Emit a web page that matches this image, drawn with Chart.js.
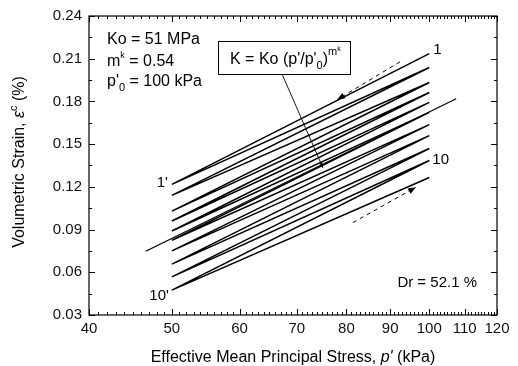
<!DOCTYPE html>
<html>
<head>
<meta charset="utf-8">
<script src="https://cdn.jsdelivr.net/npm/chart.js@4.4.1/dist/chart.umd.min.js"></script>
<style>
    html, body { margin: 0; padding: 0; background: #fff; }
</style>
</head>
<body>
<canvas id="strainChart" width="518" height="366"></canvas>
<script>
// unload / reload reversal points of the 10 cycles
const pHigh = 100;
const pLow = 50;
const upperTipStrain = [0.2136, 0.2038, 0.1933, 0.1863, 0.1793, 0.1723, 0.1637, 0.1560, 0.1469, 0.1385, 0.1266];
const lowerTipStrain = [0.1217, 0.1140, 0.1030, 0.0960, 0.0890, 0.0825, 0.0750, 0.0657, 0.0568, 0.0475];

// K = Ko (p'/p'0)^mk reference line
const kLineP = [46.6, 107.5];
const kLineStrain = [0.0748, 0.1819];

// dashed direction arrows
const unloadArrowP = [92.4, 78.0];
const unloadArrowStrain = [0.2078, 0.1812];
const reloadArrowP = [81.4, 96.5];
const reloadArrowStrain = [0.0949, 0.1198];

const xTicks = [40, 50, 60, 70, 80, 90, 100, 110, 120];
const yTicks = [0.03, 0.06, 0.09, 0.12, 0.15, 0.18, 0.21, 0.24];

const loopPoints = [];
upperTipStrain.forEach(function (v, i) {
    loopPoints.push({ x: pHigh, y: v });
    if (i < lowerTipStrain.length) loopPoints.push({ x: pLow, y: lowerTipStrain[i] });
});
const toPoints = (xs, ys) => xs.map((v, i) => ({ x: v, y: ys[i] }));

const SANS = "'Liberation Sans', Arial, sans-serif";
Chart.defaults.font.family = SANS;
Chart.defaults.color = "#111";

function rich(ctx, x, y, parts) {
    parts.forEach(function (p) {
        ctx.font = p.f;
        ctx.fillText(p.t, x, y + (p.dy || 0));
        x += ctx.measureText(p.t).width;
    });
    return x;
}
function richWidth(ctx, parts) {
    let w = 0;
    parts.forEach(function (p) { ctx.font = p.f; w += ctx.measureText(p.t).width; });
    return w;
}
function arrowHead(ctx, x0, y0, x1, y1, len, half) {
    const ang = Math.atan2(y1 - y0, x1 - x0);
    ctx.beginPath();
    ctx.moveTo(x1, y1);
    ctx.lineTo(x1 - len * Math.cos(ang) + half * Math.sin(ang), y1 - len * Math.sin(ang) - half * Math.cos(ang));
    ctx.lineTo(x1 - len * Math.cos(ang) - half * Math.sin(ang), y1 - len * Math.sin(ang) + half * Math.cos(ang));
    ctx.closePath();
    ctx.fill();
}

const framePlugin = {
    id: "frame",
    afterDraw(chart) {
        const ctx = chart.ctx, a = chart.chartArea, x = chart.scales.x, y = chart.scales.y;
        ctx.save();
        ctx.strokeStyle = "#000";
        ctx.fillStyle = "#000";
        ctx.lineWidth = 1.2;
        ctx.strokeRect(a.left, a.top, a.right - a.left, a.bottom - a.top);

        ctx.lineWidth = 1;
        ctx.beginPath();
        for (let v = xTicks[0]; v <= xTicks[xTicks.length - 1]; v++) {
            const px = Math.round(x.getPixelForValue(v)) + 0.5;
            const len = v % 10 === 0 ? 6 : 3;
            ctx.moveTo(px, a.bottom); ctx.lineTo(px, a.bottom - len);
            ctx.moveTo(px, a.top); ctx.lineTo(px, a.top + len);
        }
        for (let i = 0; i < yTicks.length * 2 - 1; i++) {
            const v = yTicks[0] + i * 0.015;
            const py = Math.round(y.getPixelForValue(v)) + 0.5;
            const len = i % 2 === 0 ? 6 : 3;
            ctx.moveTo(a.left, py); ctx.lineTo(a.left + len, py);
            ctx.moveTo(a.right, py); ctx.lineTo(a.right - len, py);
        }
        ctx.stroke();

        // arrow heads on dashed lines
        const ua = unloadArrowP.length - 1, ra = reloadArrowP.length - 1;
        arrowHead(ctx, x.getPixelForValue(unloadArrowP[ua - 1]), y.getPixelForValue(unloadArrowStrain[ua - 1]),
            x.getPixelForValue(unloadArrowP[ua]), y.getPixelForValue(unloadArrowStrain[ua]), 8, 3);
        arrowHead(ctx, x.getPixelForValue(reloadArrowP[ra - 1]), y.getPixelForValue(reloadArrowStrain[ra - 1]),
            x.getPixelForValue(reloadArrowP[ra]), y.getPixelForValue(reloadArrowStrain[ra]), 8, 3);

        const f16 = "16px " + SANS, f11 = "11px " + SANS, f9 = "9px " + SANS;
        ctx.textBaseline = "alphabetic";
        ctx.textAlign = "left";

        // parameters
        const L = a.left, T = a.top;
        rich(ctx, L + 18, T + 28, [{ t: "Ko = 51 MPa", f: f16 }]);
        rich(ctx, L + 18, T + 50, [{ t: "m", f: f16 }, { t: "k", f: f9, dy: -8 }, { t: " = 0.54", f: f16 }]);
        rich(ctx, L + 18, T + 70, [{ t: "p'", f: f16 }, { t: "0", f: f11, dy: 5 }, { t: " = 100 kPa", f: f16 }]);

        // equation box and leader
        ctx.fillStyle = "#fff";
        ctx.fillRect(L + 129, T + 25, 132, 33);
        ctx.lineWidth = 1;
        ctx.strokeRect(L + 129.5, T + 25.5, 132, 33);
        ctx.fillStyle = "#000";
        rich(ctx, L + 141, T + 48, [
            { t: "K = Ko (p'/p'", f: f16 }, { t: "0", f: f11, dy: 5 }, { t: ")", f: f16 },
            { t: "m", f: f11, dy: -9 }, { t: "k", f: "7px " + SANS, dy: -13 }
        ]);
        const lx = x.getPixelForValue(75.1), ly = y.getPixelForValue(0.1333);
        ctx.lineWidth = 0.9;
        ctx.beginPath();
        ctx.moveTo(L + 193, T + 58);
        ctx.lineTo(lx, ly);
        ctx.stroke();
        arrowHead(ctx, L + 193, T + 58, lx, ly, 5, 1.6);

        // cycle labels
        ctx.font = "15px " + SANS;
        const hx = x.getPixelForValue(pHigh), lox = x.getPixelForValue(pLow);
        ctx.fillText("1", hx + 4, y.getPixelForValue(upperTipStrain[0]) + 0);
        ctx.fillText("10", hx + 3, y.getPixelForValue(upperTipStrain[9]) + 3);
        ctx.textAlign = "right";
        ctx.fillText("1'", lox - 4, y.getPixelForValue(lowerTipStrain[0]) + 3);
        ctx.fillText("10'", lox - 3, y.getPixelForValue(lowerTipStrain[9]) + 10);
        ctx.fillText("Dr = 52.1 %", a.right - 20, a.bottom - 28);

        // axis titles
        ctx.textAlign = "left";
        const xt = [{ t: "Effective Mean Principal Stress, ", f: f16 }, { t: "p'", f: "italic 16px " + SANS }, { t: " (kPa)", f: f16 }];
        rich(ctx, 293 - richWidth(ctx, xt) / 2, 362, xt);

        const yt = [{ t: "Volumetric Strain, ", f: f16 }, { t: "\u03b5", f: "italic 16px " + SANS }, { t: "c", f: f11, dy: -7 }, { t: " (%)", f: f16 }];
        ctx.translate(24, 162);
        ctx.rotate(-Math.PI / 2);
        rich(ctx, -richWidth(ctx, yt) / 2, 0, yt);
        ctx.restore();
    }
};

new Chart(document.getElementById("strainChart").getContext("2d"), {
    type: "scatter",
    data: {
        datasets: [{
            data: loopPoints,
            showLine: true,
            borderColor: "#000",
            borderWidth: 1.5,
            pointRadius: 0
        }, {
            data: toPoints(kLineP, kLineStrain),
            showLine: true,
            borderColor: "#000",
            borderWidth: 1.3,
            pointRadius: 0
        }, {
            data: toPoints(unloadArrowP, unloadArrowStrain),
            showLine: true,
            borderColor: "#000",
            borderWidth: 1,
            borderDash: [4, 4],
            pointRadius: 0
        }, {
            data: toPoints(reloadArrowP, reloadArrowStrain),
            showLine: true,
            borderColor: "#000",
            borderWidth: 1,
            borderDash: [4, 4],
            pointRadius: 0
        }]
    },
    options: {
        responsive: false,
        animation: false,
        layout: { padding: { left: 0, top: 15, right: 21, bottom: 0 } },
        plugins: { legend: { display: false }, tooltip: { enabled: false } },
        scales: {
            x: {
                type: "logarithmic",
                min: 40,
                max: 120,
                afterBuildTicks: s => { s.ticks = xTicks.map(v => ({ value: v })); },
                afterFit: s => { s.height = 51; },
                grid: { display: false, drawTicks: false },
                border: { display: false },
                ticks: { autoSkip: false, maxRotation: 0, padding: 5, font: { size: 15 }, callback: v => String(v) }
            },
            y: {
                min: 0.03,
                max: 0.24,
                afterBuildTicks: s => { s.ticks = yTicks.map(v => ({ value: v })); },
                afterFit: s => { s.width = 89; },
                grid: { display: false, drawTicks: false },
                border: { display: false },
                ticks: { padding: 7, font: { size: 15 }, callback: v => v.toFixed(2) }
            }
        }
    },
    plugins: [framePlugin]
});
</script>
</body>
</html>
